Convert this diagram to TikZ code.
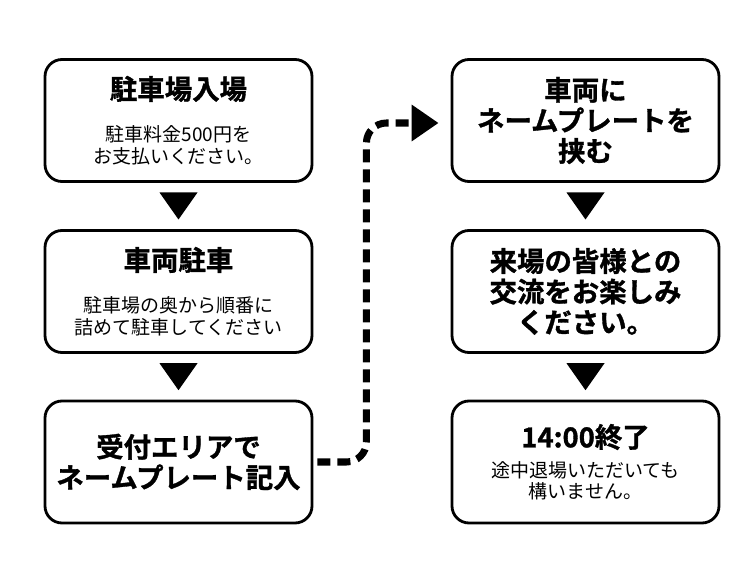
\documentclass[tikz,border=0pt]{standalone}
\usepackage{fontspec}
\setmainfont{Noto Sans CJK JP}[BoldFont={Noto Sans CJK JP Bold},BoldFeatures={FakeBold=1.2}]
\usetikzlibrary{arrows.meta,calc}
\tikzset{>=latex}
\newcommand{\titlefont}{\fontsize{15.6pt}{17.4pt}\selectfont\bfseries}
\newcommand{\bodyfont}{\fontsize{10.8pt}{12.5pt}\selectfont\mdseries}
\tikzset{stepbox/.style={draw, line width=1.6pt, rounded corners=0.34cm,
  minimum width=5.34cm, minimum height=2.44cm, align=center, inner sep=0pt,
  font=\titlefont}}
\tikzstyle{dasharrow} = [line width=4pt, dash pattern=on 0.26cm off 0.14cm,
  rounded corners=0.4cm, -{Triangle[length=0.54cm,width=0.7cm]}]

\begin{document}
\begin{tikzpicture}

\def \colA {3.57}
\def \colB {11.71}

\useasboundingbox (0,0) rectangle (15,-11.44);

% left column
  \node[stepbox] (l1) at (\colA,-2.41) {駐車場入場\\[2.3mm]\bodyfont 駐車料金500円を\\[-1.7mm]\bodyfont お支払いください。};
  \node[stepbox] (l2) at (\colA,-5.83) {車両駐車\\[2.3mm]\bodyfont 駐車場の奥から順番に\\[-1.7mm]\bodyfont 詰めて駐車してください};
  \node[stepbox] (l3) at (\colA,-9.24) {受付エリアで\\ネームプレート記入};

% right column
  \node[stepbox] (r1) at (\colB,-2.41) {車両に\\ネームプレートを\\挟む};
  \node[stepbox] (r2) at (\colB,-5.83) {来場の皆様との\\交流をお楽しみ\\ください。};
  \node[stepbox] (r3) at (\colB,-9.24) {14:00終了\\\bodyfont 途中退場いただいても\\[-2mm]\bodyfont 構いません。};

\foreach \a/\b in {l1/l2, l2/l3, r1/r2, r2/r3}
  \fill ($(\a.south)!0.5!(\b.north)$) +(-0.38,0.27) -- +(0.38,0.27) -- +(0,-0.27) -- cycle;

\draw[dasharrow] ([xshift=0.08cm]l3.east) -- ++(0.98,0) |- ([xshift=-0.24cm,yshift=-0.05cm]r1.west);

\end{tikzpicture}
\end{document}
